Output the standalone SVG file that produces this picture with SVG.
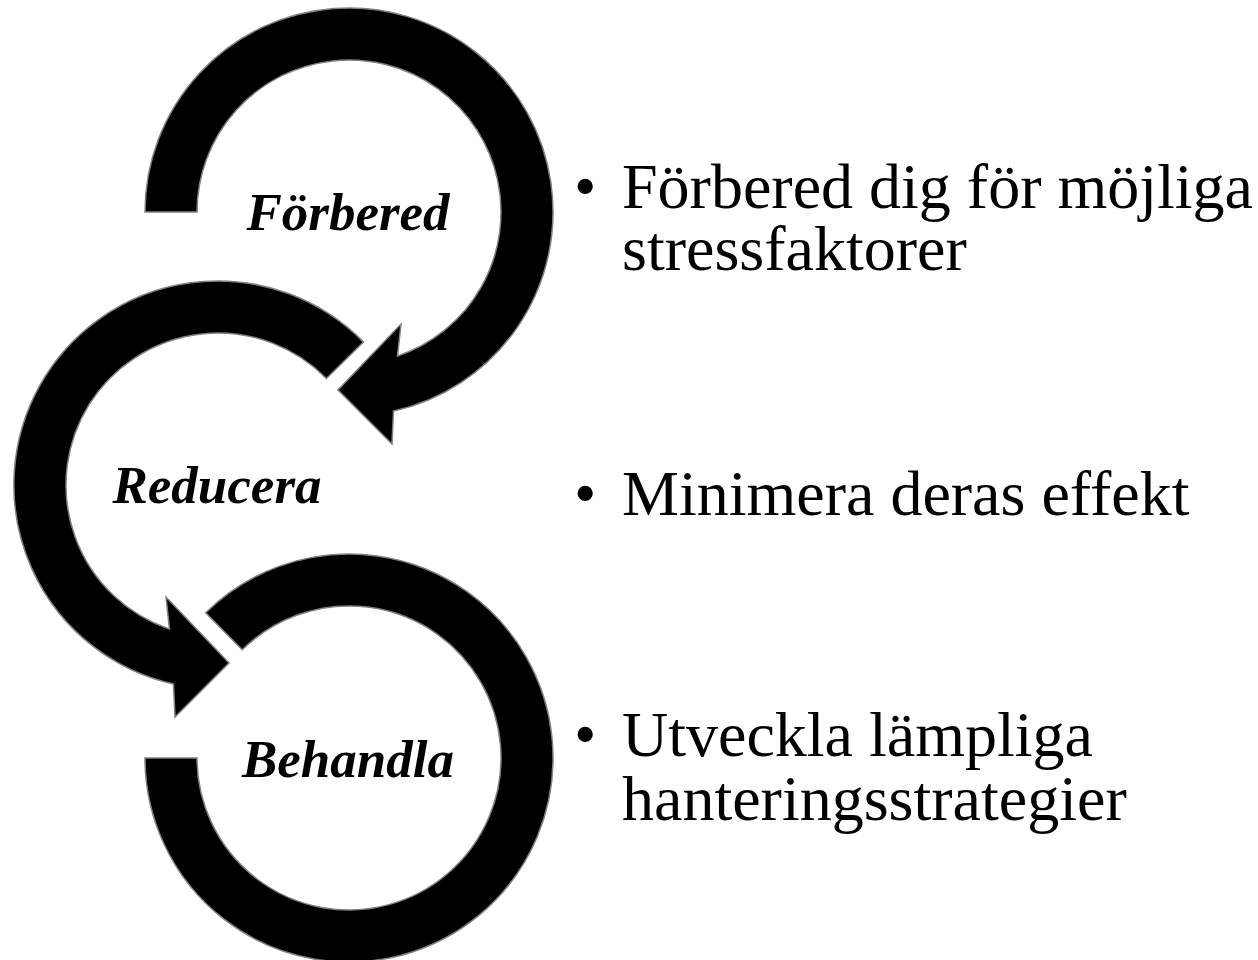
<svg xmlns="http://www.w3.org/2000/svg" width="1258" height="960" viewBox="0 0 1258 960">
  <style>
    .arrow { fill: #000000; stroke: #808080; stroke-width: 1.5; stroke-linejoin: miter; }
    .label { font-family: "Liberation Serif", "Times New Roman", serif; font-size: 53px; font-weight: bold; font-style: italic; fill: #000000; text-anchor: middle; }
    .bullet { font-family: "Liberation Serif", "Times New Roman", serif; font-size: 64px; fill: #000000; }
  </style>
  <rect x="0" y="0" width="1258" height="960" fill="#ffffff"/>
  <g id="node-behandla">
    <path class="arrow" d="M 205.7 612.8 A 204 204 0 1 1 145 758 L 197 758 A 152 152 0 1 0 242.2 649.8 Z"/>
    <text class="label" x="348" y="777">Behandla</text>
  </g>
  <g id="node-reducera">
    <path class="arrow" d="M 363.5 342.1 A 204 204 0 1 0 173.5 684.1 L 175 717 L 229 663 L 166 597 L 169.5 629.1 A 152 152 0 1 1 326.4 378.5 Z"/>
    <text class="label" x="217" y="503">Reducera</text>
  </g>
  <g id="node-forbered">
    <path class="arrow" d="M 145 212 A 204 204 0 1 1 393.5 411.1 L 392 444 L 338 390 L 401 324 L 397.5 356.1 A 152 152 0 1 0 197 212 Z"/>
    <text class="label" x="348" y="230">Förbered</text>
  </g>
  <g id="connectors"></g>
  <g id="text-list">
    <text class="bullet" x="574" y="208">•</text>
    <text class="bullet" x="622" y="208">Förbered dig för möjliga</text>
    <text class="bullet" x="622" y="270">stressfaktorer</text>
    <text class="bullet" x="574" y="515">•</text>
    <text class="bullet" x="622" y="515">Minimera deras effekt</text>
    <text class="bullet" x="574" y="756">•</text>
    <text class="bullet" x="622" y="756">Utveckla lämpliga</text>
    <text class="bullet" x="622" y="820">hanteringsstrategier</text>
  </g>
</svg>
